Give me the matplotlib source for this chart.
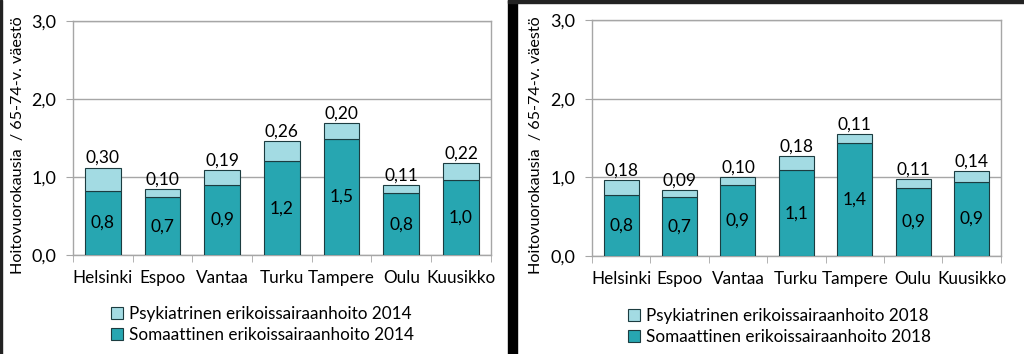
import matplotlib.pyplot as plt
import matplotlib.patches as mpatches
import numpy as np

plt.rcParams['font.family'] = ['Lato', 'DejaVu Sans']

cities = ['Helsinki', 'Espoo', 'Vantaa', 'Turku', 'Tampere', 'Oulu', 'Kuusikko']

# 2014
som_2014 = [0.82, 0.74, 0.90, 1.20, 1.49, 0.79, 0.96]
psy_2014 = [0.30, 0.10, 0.19, 0.26, 0.20, 0.11, 0.22]
som_lbl_2014 = ['0,8', '0,7', '0,9', '1,2', '1,5', '0,8', '1,0']
psy_lbl_2014 = ['0,30', '0,10', '0,19', '0,26', '0,20', '0,11', '0,22']

# 2018
som_2018 = [0.78, 0.75, 0.90, 1.09, 1.44, 0.87, 0.94]
psy_2018 = [0.18, 0.09, 0.10, 0.18, 0.11, 0.11, 0.14]
som_lbl_2018 = ['0,8', '0,7', '0,9', '1,1', '1,4', '0,9', '0,9']
psy_lbl_2018 = ['0,18', '0,09', '0,10', '0,18', '0,11', '0,11', '0,14']

dark = '#27a6b1'
light = '#a3dbe3'
edge = '#1c3c40'
grid = '#a6a6a6'

fig = plt.figure(figsize=(10.24, 3.54), dpi=100)
ax1 = fig.add_axes([0.0713, 0.2797, 0.408, 0.661])
ax2 = fig.add_axes([0.578, 0.2768, 0.3994, 0.6667])


def draw(ax, som, psy, som_lbl, psy_lbl, year, leg_x, lab_x):
    x = np.arange(len(cities))
    ax.bar(x, som, width=0.6, color=dark, edgecolor=edge, linewidth=0.8, zorder=3,
           label='Somaattinen erikoissairaanhoito ' + year)
    ax.bar(x, psy, bottom=som, width=0.6, color=light, edgecolor=edge, linewidth=0.8,
           zorder=3, label='Psykiatrinen erikoissairaanhoito ' + year)
    for i in range(len(cities)):
        ax.text(x[i], som[i] / 2, som_lbl[i], ha='center', va='center', fontsize=12.5, zorder=4)
        ax.text(x[i], som[i] + psy[i] + 0.02, psy_lbl[i], ha='center', va='bottom',
                fontsize=12.5, zorder=4)
    ax.set_xlim(-0.5, len(cities) - 0.5)
    ax.set_ylim(0, 3)
    ax.set_yticks([0, 1, 2, 3])
    ax.set_yticklabels(['0,0', '1,0', '2,0', '3,0'], fontsize=13)
    ax.set_xticks(x)
    ax.set_xticklabels(cities, fontsize=12.3)
    ax.set_xticks(np.arange(-0.5, len(cities)), minor=True)
    ax.tick_params(axis='x', which='major', length=0, pad=11)
    ax.tick_params(axis='x', which='minor', length=5, color=grid, direction='out')
    ax.tick_params(axis='y', length=5, color=grid, pad=7)
    ax.grid(axis='y', color=grid, linewidth=1, zorder=0)
    for s in ax.spines.values():
        s.set_color(grid)
        s.set_linewidth(1)
    ax.set_ylabel('Hoitovuorokausia  / 65-74-v. väestö', fontsize=11.6)
    ax.yaxis.set_label_coords(lab_x, 0.47)
    h, l = ax.get_legend_handles_labels()
    ax.legend(h[::-1], l[::-1], loc='upper left', bbox_to_anchor=(leg_x, -0.19),
              frameon=False, fontsize=12.3, handlelength=0.7, handleheight=0.7,
              handletextpad=0.35, labelspacing=0.3, borderaxespad=0)


draw(ax1, som_2014, psy_2014, som_lbl_2014, psy_lbl_2014, '2014', 0.075, -0.115)
draw(ax2, som_2018, psy_2018, som_lbl_2018, psy_lbl_2018, '2018', 0.072, -0.12)

# black frame pieces from the screenshot
fig.patches.append(mpatches.Rectangle((508 / 1024, 0), 9 / 1024, 1, transform=fig.transFigure,
                                      color='black', zorder=10))
fig.patches.append(mpatches.Rectangle((0, 0), 2 / 1024, 1, transform=fig.transFigure,
                                      color='#222222', zorder=10))
fig.patches.append(mpatches.Rectangle((508 / 1024, 1 - 3 / 354), 1 - 508 / 1024, 3 / 354,
                                      transform=fig.transFigure, color='#222222', zorder=10))

plt.savefig('out.png', dpi=100)
